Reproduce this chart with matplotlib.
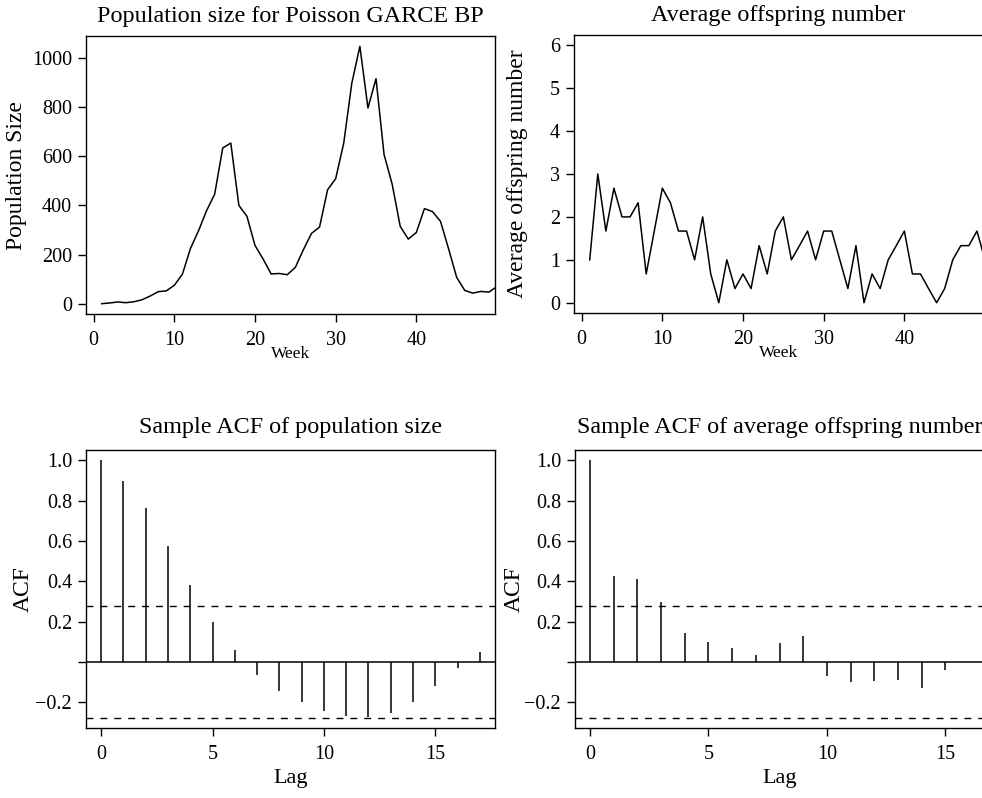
import matplotlib
matplotlib.use("Agg")
from matplotlib import pyplot as plt

# ---------------- Data ----------------
weeks = list(range(1, 51))

population = [0, 3, 7, 4, 8, 16, 31, 49, 52, 75,
              120, 225, 297, 379, 446, 634, 654, 400, 356, 237,
              182, 121, 123, 118, 148, 220, 286, 312, 464, 509,
              654, 898, 1048, 797, 916, 607, 487, 315, 263, 290,
              387, 375, 335, 223, 107, 54, 43, 50, 47, 70]

offspring = [1, 3, 1.67, 2.67, 2, 2, 2.33, 0.67, 1.67, 2.67,
             2.33, 1.67, 1.67, 1, 2, 0.67, 0, 1, 0.33, 0.67,
             0.33, 1.33, 0.67, 1.67, 2, 1, 1.33, 1.67, 1, 1.67,
             1.67, 1, 0.33, 1.33, 0, 0.67, 0.33, 1, 1.33, 1.67,
             0.67, 0.67, 0.33, 0, 0.33, 1, 1.33, 1.33, 1.67, 1]

lags_pop = list(range(0, 18))
acf_pop = [1.0, 0.899, 0.762, 0.573, 0.380, 0.197, 0.059, -0.064, -0.142,
           -0.201, -0.245, -0.270, -0.273, -0.253, -0.201, -0.120, -0.030, 0.048]

lags_off = list(range(0, 17))
acf_off = [1.0, 0.427, 0.409, 0.296, 0.142, 0.098, 0.071, 0.035, 0.093,
           0.127, -0.071, -0.099, -0.096, -0.091, -0.129, -0.041, -0.003]

conf = 0.277

# ---------------- Style ----------------
plt.rcParams['font.family'] = ['Liberation Serif', 'DejaVu Serif']
plt.rcParams['axes.linewidth'] = 1.0
TICK = 14.5
TITLE = 17.4

fig = plt.figure(figsize=(9.82, 7.98), dpi=100)

W = 409 / 982
H = 278 / 798
ax1 = fig.add_axes([86 / 982, (798 - 314) / 798, W, H])
ax2 = fig.add_axes([574 / 982, (798 - 313) / 798, W, H])
ax3 = fig.add_axes([86 / 982, (798 - 728) / 798, W, H])
ax4 = fig.add_axes([575 / 982, (798 - 728) / 798, W, H])


def style(ax, ylab_x, xlab_y):
    ax.tick_params(direction='out', length=6, width=1, labelsize=TICK,
                   colors='black', pad=4)
    ax.tick_params(axis='x', pad=6)
    for s in ax.spines.values():
        s.set_color('black')
    ax.yaxis.set_label_coords(ylab_x, 0.5)
    ax.yaxis.label.set_va('center')
    ax.xaxis.set_label_coords(0.5, xlab_y)
    ax.xaxis.label.set_va('center')


# ---------------- Population size ----------------
ax1.plot(weeks, population, color='black', lw=1.1)
ax1.set_xlim(-0.95, 49.75)
ax1.set_ylim(-42, 1090)
ax1.set_xticks([0, 10, 20, 30, 40])
ax1.set_yticks([0, 200, 400, 600, 800, 1000])
ax1.set_title("Population size for Poisson GARCE BP", fontsize=TITLE, y=1.05, pad=0)
ax1.set_ylabel("Population Size", fontsize=17)
ax1.set_xlabel("Week", fontsize=12.5)
style(ax1, -0.169, -0.145)

# ---------------- Average offspring ----------------
ax2.plot(weeks, offspring, color='black', lw=1.1)
ax2.set_xlim(-0.95, 49.75)
ax2.set_ylim(-0.24, 6.24)
ax2.set_xticks([0, 10, 20, 30, 40])
ax2.set_yticks([0, 1, 2, 3, 4, 5, 6])
ax2.set_title("Average offspring number", fontsize=TITLE, y=1.05, pad=0)
ax2.set_ylabel("Average offspring number", fontsize=17)
ax2.set_xlabel("Week", fontsize=12.5)
style(ax2, -0.137, -0.145)


# ---------------- ACF panels ----------------
def acf_panel(ax, lags, vals, title, lab_x):
    ax.vlines(lags, 0, vals, color='black', lw=1.1)
    ax.axhline(0, color='black', lw=1.1)
    ax.axhline(conf, color='black', lw=1.0, ls=(0, (5, 5)))
    ax.axhline(-conf, color='black', lw=1.0, ls=(0, (5, 5)))
    n = lags[-1]
    ax.set_xlim(-0.04 * n, n + 0.04 * n)
    ax.set_ylim(-0.328, 1.051)
    ax.set_xticks([0, 5, 10, 15])
    ax.set_yticks([-0.2, 0, 0.2, 0.4, 0.6, 0.8, 1.0])
    ax.set_yticklabels(["\u22120.2", "", "0.2", "0.4", "0.6", "0.8", "1.0"])
    ax.set_title(title, fontsize=TITLE, y=1.06, pad=0)
    ax.set_ylabel("ACF", fontsize=17)
    ax.set_xlabel("Lag", fontsize=16)
    style(ax, lab_x, -0.18)


acf_panel(ax3, lags_pop, acf_pop, "Sample ACF of population size", -0.154)
acf_panel(ax4, lags_off, acf_off, "Sample ACF of average offspring number", -0.149)

fig.savefig("out.png", dpi=100)
